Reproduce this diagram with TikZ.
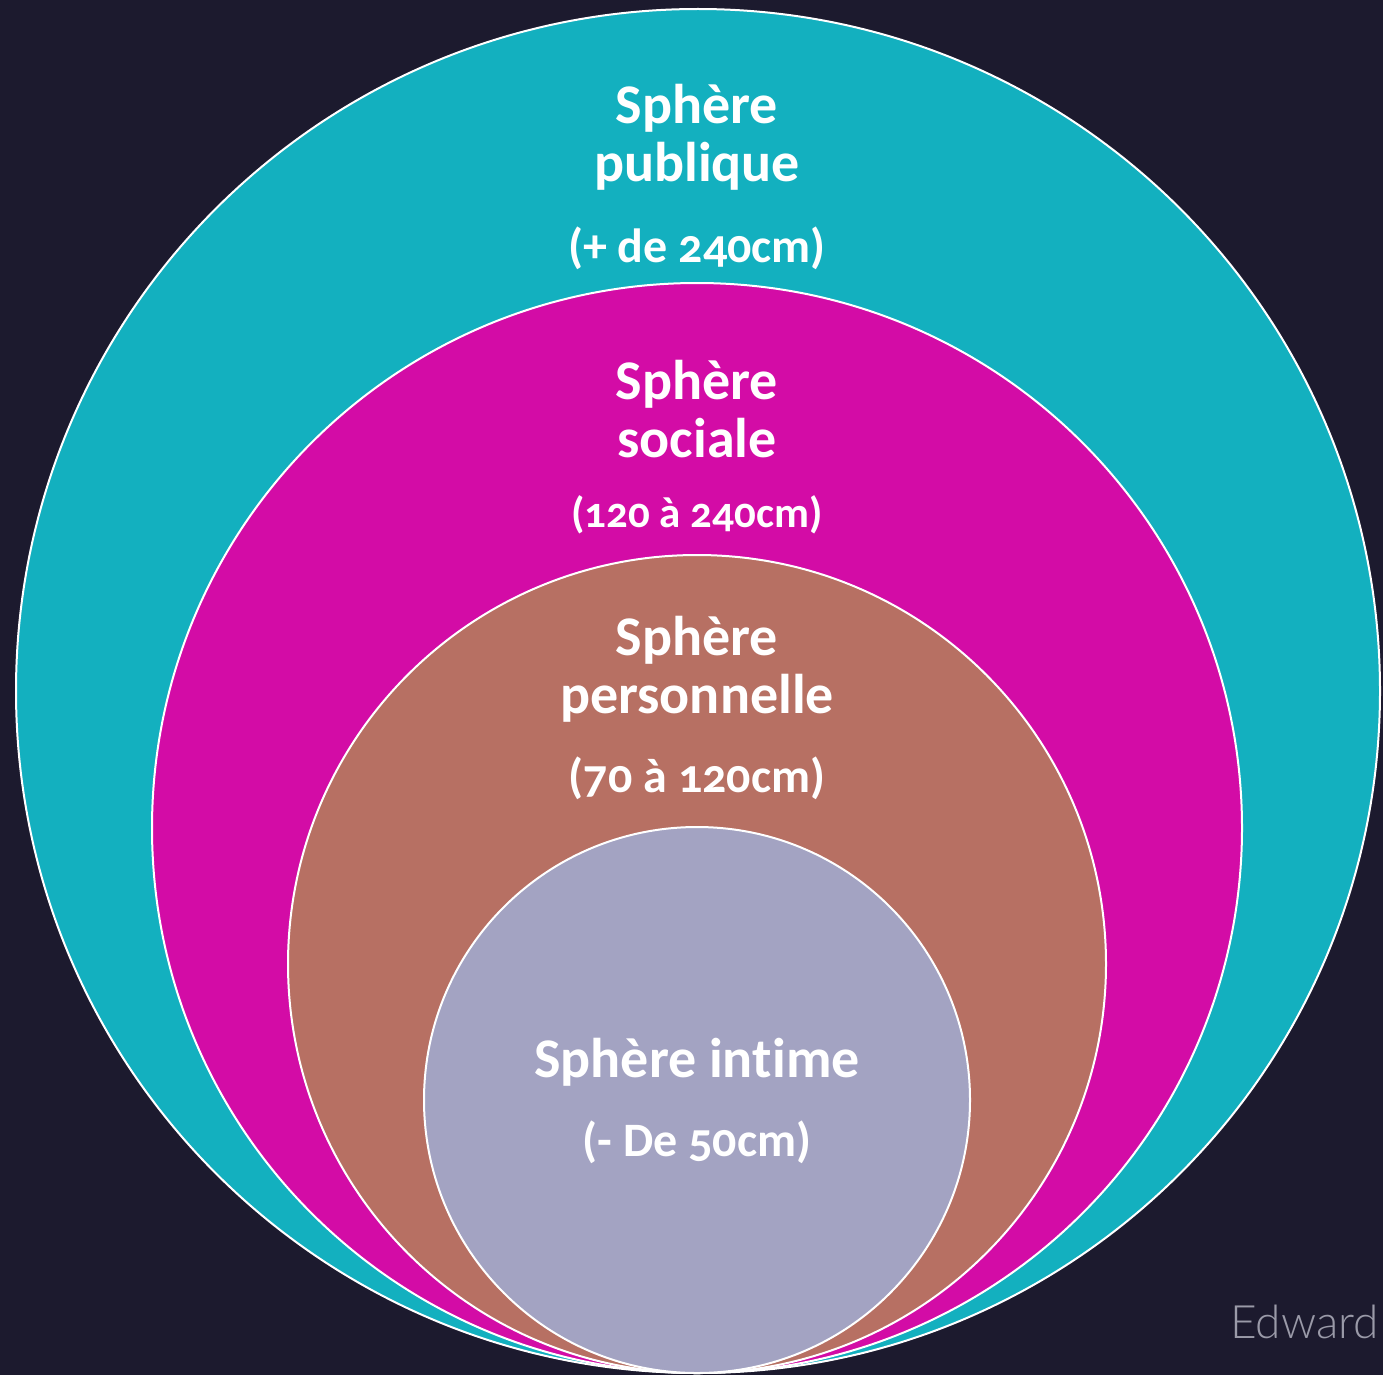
\documentclass[tikz,border=0pt]{standalone}
\usepackage{fontspec}
\setmainfont{Carlito}[Numbers=OldStyle, Ligatures=NoCommon]
\newfontfamily\edfont{Lato Light}
\definecolor{bg}{HTML}{1C1A2E}
\definecolor{teal}{HTML}{13B0BF}
\definecolor{mag}{HTML}{D30CA6}
\definecolor{brn}{HTML}{B77063}
\definecolor{gry}{HTML}{A3A3C2}
\definecolor{edg}{HTML}{9A9AA8}
\tikzset{
  sph/.style={draw=white, line width=2pt},
  lbl/.style={text=white, font=\bfseries\fontsize{56}{58}\selectfont, align=center, inner sep=0pt},
  dist/.style={text=white, font=\bfseries\fontsize{48}{52}\selectfont, inner sep=0pt},
}
\begin{document}
\begin{tikzpicture}[x=1pt,y=-1pt]
\useasboundingbox (0,0) rectangle (1383,1375);
\fill[bg] (0,0) rectangle (1383,1375);
\path[sph, fill=teal] (698,691) circle[radius=682];
\path[sph, fill=mag] (697,828) circle[radius=545];
\path[sph, fill=brn] (697,964) circle[radius=409];
\path[sph, fill=gry] (697,1100) circle[radius=273];
\node[lbl] (pub) at (697,137) {Sphère\\publique};
\node[dist] (pubd) at (697,248) {(+ de 240cm)};
\node[lbl] (soc) at (697,409) {Sphère\\sociale};
\node[dist, font=\bfseries\fontsize{43}{48}\selectfont] (socd) at (697,515) {(120 à 240cm)};
\node[lbl] (per) at (697,669) {Sphère\\personnelle};
\node[dist] (perd) at (697,778) {(70 à 120cm)};
\node[lbl] (int) at (697,1062) {Sphère in\kern0ptt\kern0pti\kern0ptme};
\node[dist] (intd) at (697,1142) {(- De 50cm)};
\node[text=edg, font=\edfont\fontsize{46}{50}\selectfont, anchor=east, inner sep=0pt] (ed) at (1379,1322) {Edward};
\end{tikzpicture}
\end{document}
